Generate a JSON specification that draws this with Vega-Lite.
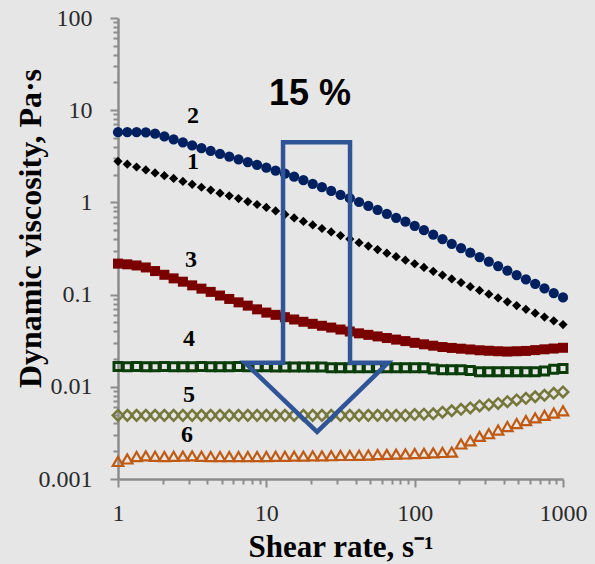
{
  "$schema": "https://vega.github.io/schema/vega-lite/v6.json",
  "width": 445,
  "height": 461,
  "autosize": {"type": "none"},
  "padding": {"left": 118, "top": 18, "right": 32, "bottom": 85},
  "background": "#e6e6e6",
  "config": {"view": {"stroke": null}, "axis": {"grid": false}},
  "datasets": {
    "pts": [
      {"s":"1","x":1,"y":2.79},{"s":"1","x":1.155,"y":2.6},{"s":"1","x":1.334,"y":2.42},{"s":"1","x":1.54,"y":2.25},{"s":"1","x":1.778,"y":2.09},{"s":"1","x":2.054,"y":1.95},{"s":"1","x":2.371,"y":1.82},{"s":"1","x":2.738,"y":1.69},{"s":"1","x":3.162,"y":1.57},{"s":"1","x":3.652,"y":1.46},{"s":"1","x":4.217,"y":1.36},{"s":"1","x":4.87,"y":1.26},{"s":"1","x":5.623,"y":1.18},{"s":"1","x":6.494,"y":1.1},{"s":"1","x":7.499,"y":1.02},{"s":"1","x":8.66,"y":0.949},{"s":"1","x":10,"y":0.883},{"s":"1","x":11.55,"y":0.809},{"s":"1","x":13.34,"y":0.741},{"s":"1","x":15.4,"y":0.678},{"s":"1","x":17.78,"y":0.621},{"s":"1","x":20.54,"y":0.569},{"s":"1","x":23.71,"y":0.521},{"s":"1","x":27.38,"y":0.478},{"s":"1","x":31.62,"y":0.437},{"s":"1","x":36.52,"y":0.4},{"s":"1","x":42.17,"y":0.366},{"s":"1","x":48.7,"y":0.336},{"s":"1","x":56.23,"y":0.308},{"s":"1","x":64.94,"y":0.281},{"s":"1","x":74.99,"y":0.258},{"s":"1","x":86.6,"y":0.236},{"s":"1","x":100,"y":0.216},{"s":"1","x":115.5,"y":0.197},{"s":"1","x":133.4,"y":0.179},{"s":"1","x":154,"y":0.163},{"s":"1","x":177.8,"y":0.148},{"s":"1","x":205.4,"y":0.135},{"s":"1","x":237.1,"y":0.122},{"s":"1","x":273.8,"y":0.111},{"s":"1","x":316.2,"y":0.101},{"s":"1","x":365.2,"y":0.092},{"s":"1","x":421.7,"y":0.0836},{"s":"1","x":487,"y":0.076},{"s":"1","x":562.3,"y":0.0692},{"s":"1","x":649.4,"y":0.0629},{"s":"1","x":749.9,"y":0.0571},{"s":"1","x":866,"y":0.052},{"s":"1","x":1000,"y":0.0473},
      {"s":"2","x":1,"y":5.77},{"s":"2","x":1.155,"y":5.78},{"s":"2","x":1.334,"y":5.79},{"s":"2","x":1.54,"y":5.75},{"s":"2","x":1.778,"y":5.56},{"s":"2","x":2.054,"y":5.19},{"s":"2","x":2.371,"y":4.84},{"s":"2","x":2.738,"y":4.49},{"s":"2","x":3.162,"y":4.15},{"s":"2","x":3.652,"y":3.87},{"s":"2","x":4.217,"y":3.61},{"s":"2","x":4.87,"y":3.37},{"s":"2","x":5.623,"y":3.14},{"s":"2","x":6.494,"y":2.93},{"s":"2","x":7.499,"y":2.74},{"s":"2","x":8.66,"y":2.55},{"s":"2","x":10,"y":2.38},{"s":"2","x":11.55,"y":2.21},{"s":"2","x":13.34,"y":2.05},{"s":"2","x":15.4,"y":1.9},{"s":"2","x":17.78,"y":1.74},{"s":"2","x":20.54,"y":1.59},{"s":"2","x":23.71,"y":1.46},{"s":"2","x":27.38,"y":1.33},{"s":"2","x":31.62,"y":1.21},{"s":"2","x":36.52,"y":1.11},{"s":"2","x":42.17,"y":1.01},{"s":"2","x":48.7,"y":0.916},{"s":"2","x":56.23,"y":0.83},{"s":"2","x":64.94,"y":0.752},{"s":"2","x":74.99,"y":0.681},{"s":"2","x":86.6,"y":0.617},{"s":"2","x":100,"y":0.557},{"s":"2","x":115.5,"y":0.499},{"s":"2","x":133.4,"y":0.446},{"s":"2","x":154,"y":0.399},{"s":"2","x":177.8,"y":0.356},{"s":"2","x":205.4,"y":0.319},{"s":"2","x":237.1,"y":0.285},{"s":"2","x":273.8,"y":0.255},{"s":"2","x":316.2,"y":0.228},{"s":"2","x":365.2,"y":0.204},{"s":"2","x":421.7,"y":0.182},{"s":"2","x":487,"y":0.163},{"s":"2","x":562.3,"y":0.146},{"s":"2","x":649.4,"y":0.131},{"s":"2","x":749.9,"y":0.117},{"s":"2","x":866,"y":0.104},{"s":"2","x":1000,"y":0.0933},
      {"s":"3","x":1,"y":0.217},{"s":"3","x":1.155,"y":0.213},{"s":"3","x":1.334,"y":0.207},{"s":"3","x":1.54,"y":0.197},{"s":"3","x":1.778,"y":0.18},{"s":"3","x":2.054,"y":0.164},{"s":"3","x":2.371,"y":0.15},{"s":"3","x":2.738,"y":0.138},{"s":"3","x":3.162,"y":0.126},{"s":"3","x":3.652,"y":0.116},{"s":"3","x":4.217,"y":0.107},{"s":"3","x":4.87,"y":0.0977},{"s":"3","x":5.623,"y":0.0897},{"s":"3","x":6.494,"y":0.0824},{"s":"3","x":7.499,"y":0.0759},{"s":"3","x":8.66,"y":0.0692},{"s":"3","x":10,"y":0.0638},{"s":"3","x":11.55,"y":0.0603},{"s":"3","x":13.34,"y":0.0569},{"s":"3","x":15.4,"y":0.0537},{"s":"3","x":17.78,"y":0.0507},{"s":"3","x":20.54,"y":0.0482},{"s":"3","x":23.71,"y":0.0459},{"s":"3","x":27.38,"y":0.0439},{"s":"3","x":31.62,"y":0.0418},{"s":"3","x":36.52,"y":0.0398},{"s":"3","x":42.17,"y":0.038},{"s":"3","x":48.7,"y":0.0366},{"s":"3","x":56.23,"y":0.0352},{"s":"3","x":64.94,"y":0.0338},{"s":"3","x":74.99,"y":0.0325},{"s":"3","x":86.6,"y":0.0313},{"s":"3","x":100,"y":0.03},{"s":"3","x":115.5,"y":0.0289},{"s":"3","x":133.4,"y":0.0279},{"s":"3","x":154,"y":0.027},{"s":"3","x":177.8,"y":0.0264},{"s":"3","x":205.4,"y":0.0259},{"s":"3","x":237.1,"y":0.0254},{"s":"3","x":273.8,"y":0.0249},{"s":"3","x":316.2,"y":0.0246},{"s":"3","x":365.2,"y":0.0243},{"s":"3","x":421.7,"y":0.0241},{"s":"3","x":487,"y":0.0243},{"s":"3","x":562.3,"y":0.0245},{"s":"3","x":649.4,"y":0.025},{"s":"3","x":749.9,"y":0.0255},{"s":"3","x":866,"y":0.026},{"s":"3","x":1000,"y":0.0265},
      {"s":"4","x":1,"y":0.0166},{"s":"4","x":1.155,"y":0.0165},{"s":"4","x":1.334,"y":0.0166},{"s":"4","x":1.54,"y":0.0165},{"s":"4","x":1.778,"y":0.0165},{"s":"4","x":2.054,"y":0.0166},{"s":"4","x":2.371,"y":0.0165},{"s":"4","x":2.738,"y":0.0165},{"s":"4","x":3.162,"y":0.0165},{"s":"4","x":3.652,"y":0.0166},{"s":"4","x":4.217,"y":0.0165},{"s":"4","x":4.87,"y":0.0165},{"s":"4","x":5.623,"y":0.0165},{"s":"4","x":6.494,"y":0.0166},{"s":"4","x":7.499,"y":0.0165},{"s":"4","x":8.66,"y":0.0165},{"s":"4","x":10,"y":0.0165},{"s":"4","x":11.55,"y":0.0164},{"s":"4","x":13.34,"y":0.0164},{"s":"4","x":15.4,"y":0.0164},{"s":"4","x":17.78,"y":0.0164},{"s":"4","x":20.54,"y":0.0164},{"s":"4","x":23.71,"y":0.0164},{"s":"4","x":27.38,"y":0.0161},{"s":"4","x":31.62,"y":0.0161},{"s":"4","x":36.52,"y":0.0161},{"s":"4","x":42.17,"y":0.0161},{"s":"4","x":48.7,"y":0.0161},{"s":"4","x":56.23,"y":0.0161},{"s":"4","x":64.94,"y":0.0161},{"s":"4","x":74.99,"y":0.0161},{"s":"4","x":86.6,"y":0.0161},{"s":"4","x":100,"y":0.0161},{"s":"4","x":115.5,"y":0.0161},{"s":"4","x":133.4,"y":0.0156},{"s":"4","x":154,"y":0.0153},{"s":"4","x":177.8,"y":0.0153},{"s":"4","x":205.4,"y":0.0153},{"s":"4","x":237.1,"y":0.015},{"s":"4","x":273.8,"y":0.0146},{"s":"4","x":316.2,"y":0.0146},{"s":"4","x":365.2,"y":0.0146},{"s":"4","x":421.7,"y":0.0146},{"s":"4","x":487,"y":0.0146},{"s":"4","x":562.3,"y":0.0146},{"s":"4","x":649.4,"y":0.0146},{"s":"4","x":749.9,"y":0.0148},{"s":"4","x":866,"y":0.0155},{"s":"4","x":1000,"y":0.0158},
      {"s":"5","x":1,"y":0.0049},{"s":"5","x":1.155,"y":0.0049},{"s":"5","x":1.334,"y":0.0049},{"s":"5","x":1.54,"y":0.0049},{"s":"5","x":1.778,"y":0.0049},{"s":"5","x":2.054,"y":0.0049},{"s":"5","x":2.371,"y":0.0049},{"s":"5","x":2.738,"y":0.0049},{"s":"5","x":3.162,"y":0.0049},{"s":"5","x":3.652,"y":0.0049},{"s":"5","x":4.217,"y":0.0049},{"s":"5","x":4.87,"y":0.0049},{"s":"5","x":5.623,"y":0.0049},{"s":"5","x":6.494,"y":0.0049},{"s":"5","x":7.499,"y":0.0049},{"s":"5","x":8.66,"y":0.0049},{"s":"5","x":10,"y":0.0049},{"s":"5","x":11.55,"y":0.0049},{"s":"5","x":13.34,"y":0.0049},{"s":"5","x":15.4,"y":0.0049},{"s":"5","x":17.78,"y":0.0049},{"s":"5","x":20.54,"y":0.0049},{"s":"5","x":23.71,"y":0.0049},{"s":"5","x":27.38,"y":0.0049},{"s":"5","x":31.62,"y":0.0049},{"s":"5","x":36.52,"y":0.0049},{"s":"5","x":42.17,"y":0.0049},{"s":"5","x":48.7,"y":0.0049},{"s":"5","x":56.23,"y":0.0049},{"s":"5","x":64.94,"y":0.0049},{"s":"5","x":74.99,"y":0.0049},{"s":"5","x":86.6,"y":0.0049},{"s":"5","x":100,"y":0.005},{"s":"5","x":115.5,"y":0.00505},{"s":"5","x":133.4,"y":0.0051},{"s":"5","x":154,"y":0.0053},{"s":"5","x":177.8,"y":0.0055},{"s":"5","x":205.4,"y":0.0057},{"s":"5","x":237.1,"y":0.0059},{"s":"5","x":273.8,"y":0.0062},{"s":"5","x":316.2,"y":0.0064},{"s":"5","x":365.2,"y":0.0066},{"s":"5","x":421.7,"y":0.0069},{"s":"5","x":487,"y":0.0072},{"s":"5","x":562.3,"y":0.0075},{"s":"5","x":649.4,"y":0.0078},{"s":"5","x":749.9,"y":0.0081},{"s":"5","x":866,"y":0.0085},{"s":"5","x":1000,"y":0.0088},
      {"s":"6","x":1,"y":0.00155},{"s":"6","x":1.155,"y":0.00165},{"s":"6","x":1.334,"y":0.00175},{"s":"6","x":1.54,"y":0.00178},{"s":"6","x":1.778,"y":0.00176},{"s":"6","x":2.054,"y":0.00175},{"s":"6","x":2.371,"y":0.00176},{"s":"6","x":2.738,"y":0.00177},{"s":"6","x":3.162,"y":0.00178},{"s":"6","x":3.652,"y":0.00176},{"s":"6","x":4.217,"y":0.00175},{"s":"6","x":4.87,"y":0.00175},{"s":"6","x":5.623,"y":0.00175},{"s":"6","x":6.494,"y":0.00175},{"s":"6","x":7.499,"y":0.00175},{"s":"6","x":8.66,"y":0.00175},{"s":"6","x":10,"y":0.00175},{"s":"6","x":11.55,"y":0.00176},{"s":"6","x":13.34,"y":0.00176},{"s":"6","x":15.4,"y":0.00177},{"s":"6","x":17.78,"y":0.00177},{"s":"6","x":20.54,"y":0.00178},{"s":"6","x":23.71,"y":0.00178},{"s":"6","x":27.38,"y":0.00179},{"s":"6","x":31.62,"y":0.0018},{"s":"6","x":36.52,"y":0.0018},{"s":"6","x":42.17,"y":0.00181},{"s":"6","x":48.7,"y":0.00182},{"s":"6","x":56.23,"y":0.00184},{"s":"6","x":64.94,"y":0.00185},{"s":"6","x":74.99,"y":0.00186},{"s":"6","x":86.6,"y":0.00187},{"s":"6","x":100,"y":0.00189},{"s":"6","x":115.5,"y":0.0019},{"s":"6","x":133.4,"y":0.00192},{"s":"6","x":154,"y":0.00194},{"s":"6","x":177.8,"y":0.00196},{"s":"6","x":205.4,"y":0.0024},{"s":"6","x":237.1,"y":0.0026},{"s":"6","x":273.8,"y":0.0029},{"s":"6","x":316.2,"y":0.0031},{"s":"6","x":365.2,"y":0.0034},{"s":"6","x":421.7,"y":0.0037},{"s":"6","x":487,"y":0.004},{"s":"6","x":562.3,"y":0.0043},{"s":"6","x":649.4,"y":0.0046},{"s":"6","x":749.9,"y":0.0049},{"s":"6","x":866,"y":0.0052},{"s":"6","x":1000,"y":0.0055}
    ],
    "labels": [
      {"x":3.204,"y":8.61,"t":"2"},{"x":3.204,"y":2.72,"t":"1"},{"x":3.107,"y":0.2345,"t":"3"},{"x":3.012,"y":0.0333,"t":"4"},{"x":3.012,"y":0.00819,"t":"5"},{"x":2.92,"y":0.00301,"t":"6"}
    ],
    "note": [{"x":19.7,"y":14.9,"t":"15 %"}],
    "arrow": [
      {"i":0,"x":12.96,"y":4.49},{"i":1,"x":36.67,"y":4.49},{"i":2,"x":36.67,"y":0.01824},{"i":3,"x":66.15,"y":0.01824},{"i":4,"x":21.98,"y":0.003245},{"i":5,"x":7.184,"y":0.01824},{"i":6,"x":12.96,"y":0.01824}
    ]
  },
  "encoding": {
    "x": {
      "field": "x", "type": "quantitative",
      "scale": {"type": "log", "domain": [1, 1000], "nice": false},
      "axis": {
        "title": "Shear rate, s⁻¹",
        "values": [1,2,3,4,5,6,7,8,9,10,20,30,40,50,60,70,80,90,100,200,300,400,500,600,700,800,900,1000],
        "format": "~g",
        "labelExpr": "indexof([1,10,100,1000], datum.value) >= 0 ? datum.label : ''",
        "labelFont": "Liberation Serif", "labelFontSize": 24, "labelColor": "#2a2a2a",
        "labelPadding": 14, "labelOverlap": false, "labelBound": false, "labelFlush": false,
        "domainColor": "#8c8c8c", "domainWidth": 2.5,
        "tickColor": "#8c8c8c", "tickWidth": 2,
        "tickSize": {"condition": {"test": "indexof([1,10,100,1000], datum.value) >= 0", "value": 8}, "value": 5},
        "titleFont": "Liberation Serif", "titleFontSize": 31, "titleFontWeight": "bold", "titleColor": "#000000",
        "titleX": 222.5, "titleY": 77, "titleBaseline": "alphabetic", "titleAlign": "center"
      }
    },
    "y": {
      "field": "y", "type": "quantitative",
      "scale": {"type": "log", "domain": [0.001, 100], "nice": false},
      "axis": {
        "title": "Dynamic viscosity,  Pa·s",
        "values": [0.001,0.002,0.003,0.004,0.005,0.006,0.007,0.008,0.009,0.01,0.02,0.03,0.04,0.05,0.06,0.07,0.08,0.09,0.1,0.2,0.3,0.4,0.5,0.6,0.7,0.8,0.9,1,2,3,4,5,6,7,8,9,10,20,30,40,50,60,70,80,90,100],
        "format": "~g",
        "labelExpr": "indexof([0.001,0.01,0.1,1,10,100], datum.value) >= 0 ? datum.label : ''",
        "labelFont": "Liberation Serif", "labelFontSize": 24, "labelColor": "#2a2a2a",
        "labelPadding": 18, "labelOverlap": false, "labelBound": false, "labelFlush": false,
        "domainColor": "#8c8c8c", "domainWidth": 2.5,
        "tickColor": "#8c8c8c", "tickWidth": 2,
        "tickSize": {"condition": {"test": "indexof([0.001,0.01,0.1,1,10,100], datum.value) >= 0", "value": 8}, "value": 5},
        "titleFont": "Liberation Serif", "titleFontSize": 32, "titleFontWeight": "bold", "titleColor": "#000000",
        "titleX": -78, "titleY": 210, "titleBaseline": "alphabetic", "titleAlign": "center", "titleAngle": 270
      }
    }
  },
  "layer": [
    {"data": {"name": "pts"}, "transform": [{"filter": "datum.s == '3'"}], "mark": {"type": "point", "shape": "square", "filled": true, "color": "#7a0000", "size": 100, "opacity": 1}},
    {"data": {"name": "pts"}, "transform": [{"filter": "datum.s == '4'"}], "mark": {"type": "point", "shape": "square", "filled": false, "color": "#0a3d0a", "size": 64, "strokeWidth": 3, "opacity": 1}},
    {"data": {"name": "pts"}, "transform": [{"filter": "datum.s == '5'"}], "mark": {"type": "point", "shape": "diamond", "filled": false, "color": "#76773b", "size": 110, "strokeWidth": 2.5, "opacity": 1}},
    {"data": {"name": "pts"}, "transform": [{"filter": "datum.s == '6'"}], "mark": {"type": "point", "shape": "triangle-up", "filled": false, "color": "#c05a12", "size": 110, "strokeWidth": 2.2, "opacity": 1}},
    {"data": {"name": "pts"}, "transform": [{"filter": "datum.s == '1'"}], "mark": {"type": "point", "shape": "diamond", "filled": true, "color": "#000000", "size": 85, "opacity": 1}},
    {"data": {"name": "pts"}, "transform": [{"filter": "datum.s == '2'"}], "mark": {"type": "point", "shape": "circle", "filled": true, "color": "#002060", "size": 105, "opacity": 1}},
    {"data": {"name": "arrow"}, "mark": {"type": "line", "interpolate": "linear-closed", "color": "#2f5597", "strokeWidth": 4.5, "strokeJoin": "miter"}, "encoding": {"order": {"field": "i", "type": "quantitative"}}},
    {"data": {"name": "labels"}, "mark": {"type": "text", "font": "Liberation Serif", "fontWeight": "bold", "fontSize": 24, "color": "#000000", "align": "center", "baseline": "middle"}, "encoding": {"text": {"field": "t", "type": "nominal"}}},
    {"data": {"name": "note"}, "mark": {"type": "text", "font": "Liberation Sans", "fontWeight": "bold", "fontSize": 36, "color": "#000000", "align": "center", "baseline": "middle"}, "encoding": {"text": {"field": "t", "type": "nominal"}}}
  ]
}
